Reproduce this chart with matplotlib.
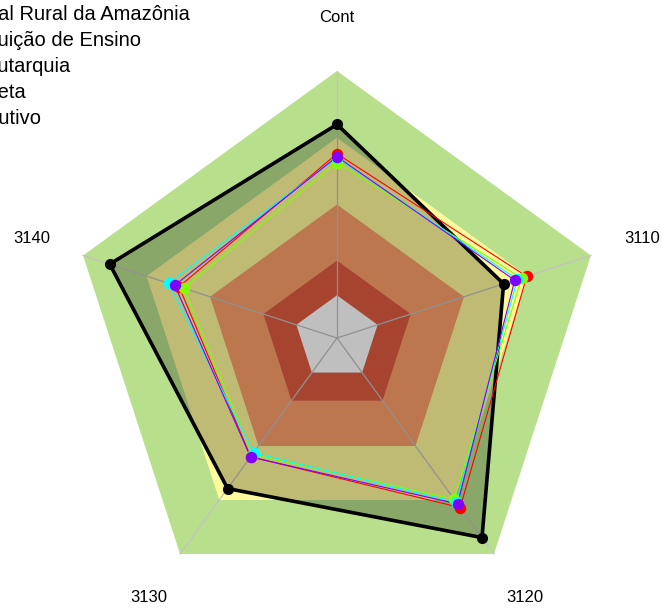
import numpy as np
import matplotlib.pyplot as plt

plt.rcParams['font.family'] = ['Liberation Sans', 'DejaVu Sans']

# axis labels, clockwise from the top
axis_labels = ["Cont", "3110", "3120", "3130", "3140"]

series_names = [
    "Universidade Federal Rural da Amazônia",
    "Instituição de Ensino",
    "Autarquia",
    "Administração Indireta",
    "Poder Executivo",
]
# part of each legend name that falls off the left edge of the picture
hidden_prefix = ["Universidade Feder", "Instit", "A", "Administração Indir", "Poder Exec"]

# values on a 0..1 radial scale
ufra = [0.80, 0.656, 0.924, 0.697, 0.895]
inst_ensino = [0.69, 0.747, 0.785, 0.55, 0.622]
autarquia = [0.657, 0.727, 0.746, 0.54, 0.604]
adm_indireta = [0.675, 0.71, 0.76, 0.532, 0.663]
poder_exec = [0.679, 0.70, 0.768, 0.551, 0.639]

# background bands (outer edge of each band)
band_edges = [1.0, 0.75, 0.5, 0.29, 0.16]
band_colors = ["#B8E08C", "#FFFA9C", "#FC9F6A", "#DF5C40", "#FFFFFF"]

series_colors = ["#FF0000", "#80FF00", "#00FFFF", "#8000FF"]

angles = np.deg2rad(90 - 72 * np.arange(len(axis_labels)))


def pentagon(values):
    v = np.asarray(values, dtype=float)
    x = v * np.cos(angles)
    y = v * np.sin(angles)
    return np.append(x, x[0]), np.append(y, y[0])


W, H = 662, 612
fig = plt.figure(figsize=(W / 100, H / 100), dpi=100)
ax = fig.add_axes([0, 0, 1, 1])
R = 267.0
cx, cy = 337.0, 274.0
ax.set_xlim(-cx / R, (W - cx) / R)
ax.set_ylim(-cy / R, (H - cy) / R)
ax.axis("off")

for r, c in zip(band_edges, band_colors):
    ax.fill(*pentagon([r] * 5), color=c, lw=0, zorder=1)

for a in angles:
    ax.plot([0, np.cos(a)], [0, np.sin(a)], color="#C2C2C2", lw=0.9, zorder=2)

# first series: filled, thick
ax.fill(*pentagon(ufra), color="black", alpha=0.25, lw=0, zorder=3)
x, y = pentagon(ufra)
ax.plot(x, y, color="black", lw=2.6, zorder=4)
ax.plot(x[:-1], y[:-1], "o", color="black", ms=7, zorder=5)

others = [inst_ensino, autarquia, adm_indireta, poder_exec]
for vals, col in zip(others, series_colors):
    x, y = pentagon(vals)
    ax.plot(x, y, color=col, lw=0.8, zorder=6)
    ax.plot(x[:-1], y[:-1], "o", color=col, ms=7.2, zorder=7)

for a, lab in zip(angles, axis_labels):
    ax.text(1.2 * np.cos(a), 1.2 * np.sin(a), lab, ha="center", va="center",
            fontsize=12, color="black")

# legend text, cut off at the left edge as in the original
rend = fig.canvas.get_renderer()
leg_size = 14.5
for i, (name, pre) in enumerate(zip(series_names, hidden_prefix)):
    probe = fig.text(0, 0, pre, fontsize=leg_size)
    pw = probe.get_window_extent(rend).width
    probe.remove()
    fig.text((-pw - 2) / W, 1 - (15 + 25.8 * i) / H, name, ha="left",
             va="center", fontsize=leg_size)

fig.savefig("out.png", dpi=100)
